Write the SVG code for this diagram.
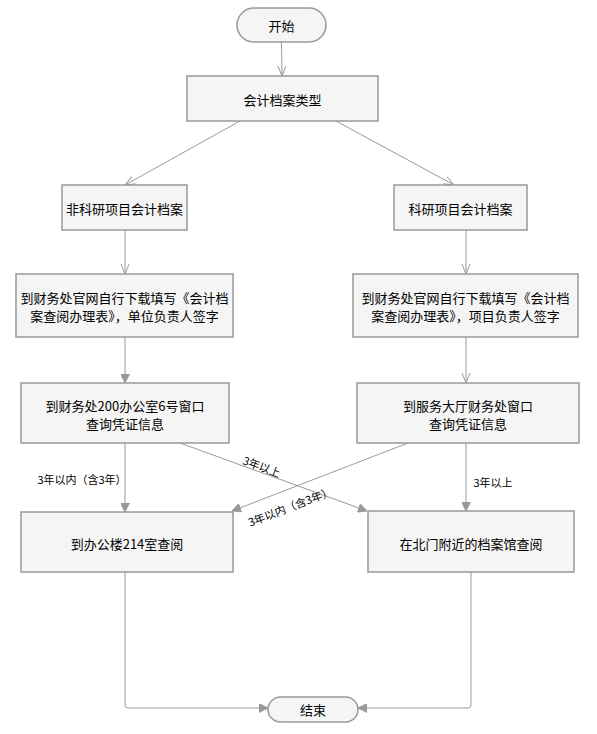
<svg xmlns="http://www.w3.org/2000/svg" width="597" height="734" viewBox="0 0 597 734">
<style>
.box{fill:#f5f5f5;stroke:#999;stroke-width:1.5}
.t{font-family:"Noto Sans CJK SC","Microsoft YaHei",sans-serif;font-size:13px;fill:#000;text-anchor:middle;dominant-baseline:central}
.lbl{font-family:"Noto Sans CJK SC",sans-serif;font-size:11px;fill:#000;text-anchor:middle;dominant-baseline:central}
.c{fill:none;stroke:#999;stroke-width:1}
</style>
<defs>
<marker id="open" viewBox="0 0 10 10" refX="10" refY="5" markerWidth="10" markerHeight="10" markerUnits="userSpaceOnUse" orient="auto">
<path d="M0,1 L10,5 L0,9" fill="none" stroke="#999" stroke-width="1"/>
</marker>
<marker id="fill" viewBox="0 0 10 10" refX="10" refY="5" markerWidth="9" markerHeight="9" markerUnits="userSpaceOnUse" orient="auto">
<path d="M0,0 L10,5 L0,10 Z" fill="#999" stroke="#999" stroke-width="1"/>
</marker>
</defs>
<g id="connectors">
<path class="c" d="M281.5,42 L282,76" marker-end="url(#open)"/>
<path class="c" d="M240,121 L125,185" marker-end="url(#open)"/>
<path class="c" d="M336,121 L454,185" marker-end="url(#open)"/>
<path class="c" d="M125,230 L125,274" marker-end="url(#open)"/>
<path class="c" d="M466,230 L466,274" marker-end="url(#open)"/>
<path class="c" d="M125,337 L125,383" marker-end="url(#fill)"/>
<path class="c" d="M466,337 L466,383" marker-end="url(#open)"/>
<path class="c" d="M125,443 L125,512" marker-end="url(#fill)"/>
<path class="c" d="M466,443 L466,511" marker-end="url(#fill)"/>
<path class="c" d="M180,443 L367,511" marker-end="url(#fill)"/>
<path class="c" d="M408,443 L232,511" marker-end="url(#fill)"/>
<path class="c" d="M125,572 L125,705 Q125,708 128,708 L268,708" marker-end="url(#fill)"/>
<path class="c" d="M471,572 L471,705 Q471,708 468,708 L358,708" marker-end="url(#fill)"/>
<text class="lbl" x="82" y="479">3年以内（含3年）</text>
<text class="lbl" x="493" y="482">3年以上</text>
<text class="lbl" transform="translate(262,466) rotate(20)">3年以上</text>
<text class="lbl" transform="translate(290,506) rotate(-21)">3年以内（含3年）</text>
</g>
<g id="start">
<rect class="box" x="237" y="8" width="89" height="34" rx="17"/>
<text class="t" x="281.5" y="25">开始</text>
</g>
<g id="type">
<rect class="box" x="187" y="76" width="191" height="45"/>
<text class="t" x="282.5" y="99">会计档案类型</text>
</g>
<g id="nonresearch">
<rect class="box" x="62" y="185" width="125" height="45"/>
<text class="t" x="124.5" y="208">非科研项目会计档案</text>
</g>
<g id="research">
<rect class="box" x="394" y="185" width="133" height="45"/>
<text class="t" x="460.5" y="208">科研项目会计档案</text>
</g>
<g id="dl-left">
<rect class="box" x="16" y="274" width="217" height="63"/>
<text class="t" x="124.5" y="297">到财务处官网自行下载填写《会计档</text>
<text class="t" x="124.5" y="315">案查阅办理表》，单位负责人签字</text>
</g>
<g id="dl-right">
<rect class="box" x="353" y="274" width="225" height="63"/>
<text class="t" x="465.5" y="297">到财务处官网自行下载填写《会计档</text>
<text class="t" x="465.5" y="315">案查阅办理表》，项目负责人签字</text>
</g>
<g id="win-left">
<rect class="box" x="21" y="383" width="208" height="60"/>
<text class="t" x="125" y="405">到财务处200办公室6号窗口</text>
<text class="t" x="125" y="423">查询凭证信息</text>
</g>
<g id="win-right">
<rect class="box" x="357" y="383" width="222" height="60"/>
<text class="t" x="468" y="405">到服务大厅财务处窗口</text>
<text class="t" x="468" y="423">查询凭证信息</text>
</g>
<g id="room214">
<rect class="box" x="21" y="512" width="212" height="60"/>
<text class="t" x="127" y="543">到办公楼214室查阅</text>
</g>
<g id="archive">
<rect class="box" x="368" y="511" width="206" height="61"/>
<text class="t" x="471" y="543">在北门附近的档案馆查阅</text>
</g>
<g id="end">
<rect class="box" x="268" y="697" width="90" height="25" rx="12.5"/>
<text class="t" x="313" y="709.5">结束</text>
</g>
</svg>
